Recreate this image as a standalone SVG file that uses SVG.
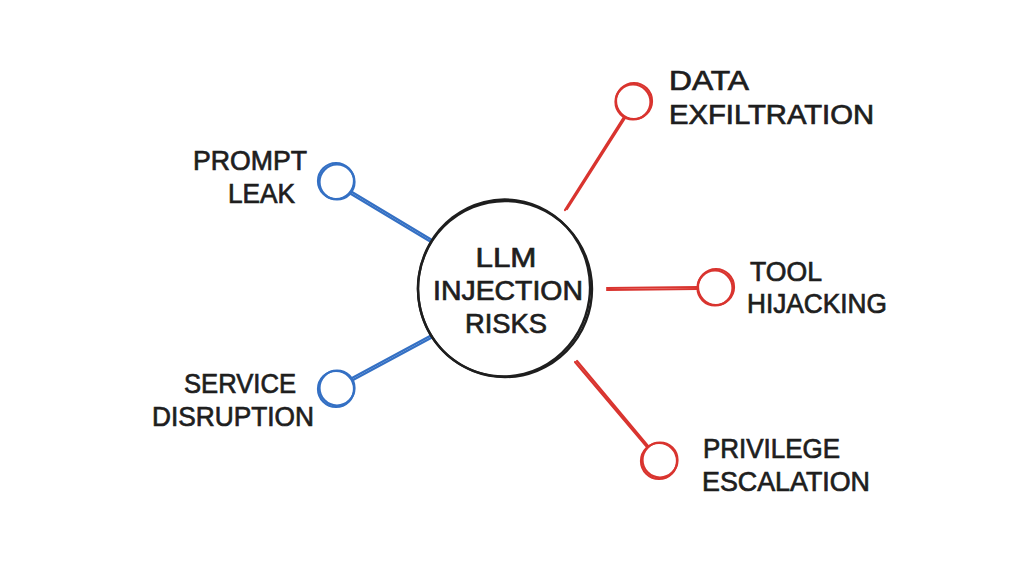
<svg xmlns="http://www.w3.org/2000/svg" width="1024" height="572" viewBox="0 0 1024 572">
<style>
.t{font-family:"Liberation Sans","Arial",sans-serif;font-size:27px;font-weight:normal;fill:#1e1e1e;stroke:#1e1e1e;stroke-width:0.7}
.red{stroke:#d9342f;fill:none;stroke-width:2.2;stroke-linecap:round}
.blue{stroke:#3470c4;fill:none;stroke-width:2.2;stroke-linecap:round}
.blk{stroke:#1e1e1e;fill:none;stroke-width:2.4}
</style>
<rect width="1024" height="572" fill="#ffffff"/>
<g id="connectors">
<path class="red" d="M565 210 L624 117"/><path class="red" d="M567 209 L625 118" stroke-width="1.2"/>
<path class="red" d="M607 288 L698 287"/><path class="red" d="M607 290 L698 289" stroke-width="1.2"/>
<path class="red" d="M575 362 L647 447"/><path class="red" d="M577 361 L648 446" stroke-width="1.2"/>
<path class="blue" d="M432 240 L352 192"/><path class="blue" d="M431 242 L351 194" stroke-width="1.2"/>
<path class="blue" d="M430 336 L352 378"/><path class="blue" d="M431 338 L353 380" stroke-width="1.2"/>
</g>
<g id="center">
<ellipse class="blk" cx="505" cy="289" rx="87" ry="88"/>
<ellipse class="blk" cx="504" cy="288" rx="86" ry="88.5" stroke-width="1.4" transform="rotate(8 504 288)"/>
<text class="t" text-anchor="middle" x="506" y="267" textLength="61" lengthAdjust="spacingAndGlyphs">LLM</text>
<text class="t" text-anchor="middle" x="508" y="300" textLength="150" lengthAdjust="spacingAndGlyphs">INJECTION</text>
<text class="t" text-anchor="middle" x="506" y="333" textLength="82" lengthAdjust="spacingAndGlyphs">RISKS</text>
</g>
<g id="data-exfiltration">
<circle class="red" cx="634" cy="101" r="18"/><circle class="red" cx="633" cy="102" r="17.5" stroke-width="1.2"/>
<text class="t" x="669" y="90" textLength="80" lengthAdjust="spacingAndGlyphs">DATA</text>
<text class="t" x="669" y="124" textLength="205" lengthAdjust="spacingAndGlyphs">EXFILTRATION</text>
</g>
<g id="tool-hijacking">
<circle class="red" cx="716" cy="287" r="18"/><circle class="red" cx="715" cy="288" r="17.5" stroke-width="1.2"/>
<text class="t" x="750" y="281" textLength="72" lengthAdjust="spacingAndGlyphs">TOOL</text>
<text class="t" x="747" y="313" textLength="140" lengthAdjust="spacingAndGlyphs">HIJACKING</text>
</g>
<g id="privilege-escalation">
<circle class="red" cx="659" cy="461" r="18"/><circle class="red" cx="660" cy="460" r="17.5" stroke-width="1.2"/>
<text class="t" x="703" y="458" textLength="137" lengthAdjust="spacingAndGlyphs">PRIVILEGE</text>
<text class="t" x="702" y="491" textLength="168" lengthAdjust="spacingAndGlyphs">ESCALATION</text>
</g>
<g id="prompt-leak">
<circle class="blue" cx="336" cy="181" r="18"/><circle class="blue" cx="337" cy="182" r="17.5" stroke-width="1.2"/>
<text class="t" x="193" y="170" textLength="114" lengthAdjust="spacingAndGlyphs">PROMPT</text>
<text class="t" x="228" y="203" textLength="67" lengthAdjust="spacingAndGlyphs">LEAK</text>
</g>
<g id="service-disruption">
<circle class="blue" cx="336" cy="389" r="18"/><circle class="blue" cx="337" cy="388" r="17.5" stroke-width="1.2"/>
<text class="t" x="184" y="393" textLength="112" lengthAdjust="spacingAndGlyphs">SERVICE</text>
<text class="t" x="152" y="426" textLength="162" lengthAdjust="spacingAndGlyphs">DISRUPTION</text>
</g>
</svg>
